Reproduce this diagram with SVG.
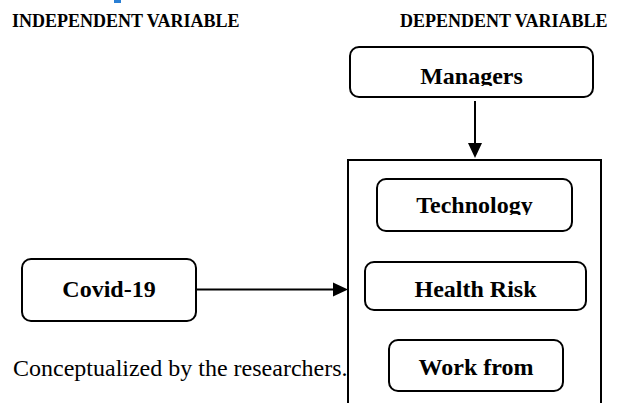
<svg xmlns="http://www.w3.org/2000/svg" width="622" height="403" viewBox="0 0 622 403">
<style>
.head{font-family:"Liberation Serif","Times New Roman",serif;font-weight:bold;font-size:18px;fill:#000}
.lbl{font-family:"Liberation Serif","Times New Roman",serif;font-weight:bold;font-size:24px;fill:#000;text-anchor:middle}
.cap{font-family:"Liberation Serif","Times New Roman",serif;font-size:24px;fill:#000}
.box{fill:#fff;stroke:#000;stroke-width:2}
.line{stroke:#000;stroke-width:2;fill:none}
</style>
<defs>
<clipPath id="cm"><rect x="350" y="47" width="244" height="39"/></clipPath>
<clipPath id="ct"><rect x="377" y="179" width="196" height="36"/></clipPath>
</defs>
<rect x="114" y="0" width="7" height="3" fill="#2a7fd4"/>
<text class="head" x="12" y="27">INDEPENDENT VARIABLE</text>
<text class="head" x="400" y="27">DEPENDENT VARIABLE</text>
<g id="dependent-frame">
<path class="line" d="M348,403 V160 H601 V403"/>
</g>
<g id="managers">
<rect class="box" x="350" y="47" width="243" height="50" rx="9"/>
<text class="lbl" x="471.5" y="84" clip-path="url(#cm)">Managers</text>
</g>
<g id="covid">
<rect class="box" x="22" y="259" width="174" height="62" rx="9"/>
<text class="lbl" x="109" y="297">Covid-19</text>
</g>
<g id="technology">
<rect class="box" x="377" y="179" width="195" height="52" rx="9"/>
<text class="lbl" x="474.5" y="213" clip-path="url(#ct)">Technology</text>
</g>
<g id="health-risk">
<rect class="box" x="365" y="262" width="221" height="48" rx="9"/>
<text class="lbl" x="475.5" y="297">Health Risk</text>
</g>
<g id="work-from">
<rect class="box" x="389" y="340" width="174" height="51" rx="9"/>
<text class="lbl" x="476" y="375">Work from</text>
</g>
<g id="connectors">
<line x1="475" y1="101" x2="475" y2="143" class="line"/>
<path d="M468,143 L482,143 L475,158 z" fill="#000"/>
<line x1="196" y1="289.5" x2="333" y2="289.5" class="line"/>
<path d="M333,282.5 L333,296.5 L348,289.5 z" fill="#000"/>
</g>
<text class="cap" x="13" y="376">Conceptualized by the researchers.</text>
</svg>
